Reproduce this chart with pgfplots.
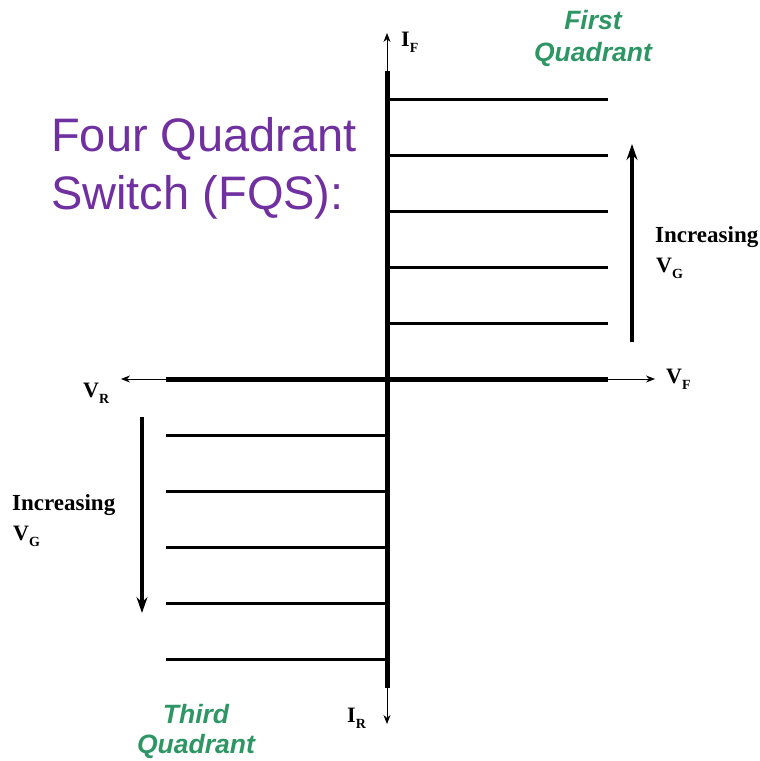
\documentclass[border=0pt]{standalone}
\usepackage{pgfplots}
\pgfplotsset{compat=1.18}
\usetikzlibrary{arrows.meta}
\usepackage{fontspec}
\setmainfont{Liberation Serif}
\newfontfamily\arial{Liberation Sans}
\newfontfamily\tnr{Liberation Serif}
\definecolor{fqspurple}{RGB}{112,48,160}
\definecolor{quadgreen}{RGB}{46,150,100}
\newcommand\lab[2]{{\tnr\bfseries\fontsize{22}{22}\selectfont #1\raisebox{-0.3em}{\fontsize{14}{14}\selectfont #2}}}
\begin{document}
\begin{tikzpicture}
\begin{axis}[width=760pt,height=761pt,scale only axis,
  xmin=0,xmax=760,ymin=0,ymax=761,y dir=reverse,hide axis,clip=false]
% frame corners (invisible)
\addplot[draw=none] coordinates {(0,0) (760,761)};
% thin axis arrows
\addplot[thick,-{Stealth[length=9pt,width=7pt]}] coordinates {(387,75) (387,33)};
\addplot[thick,-{Stealth[length=9pt,width=7pt]}] coordinates {(387,685) (387,724)};
\addplot[thick,-{Stealth[length=9pt,width=7pt]}] coordinates {(170,379) (121,379)};
\addplot[thick,-{Stealth[length=9pt,width=7pt]}] coordinates {(604,379) (655,379)};
% thick axes
\addplot[line width=5pt] coordinates {(387,71) (387,688)};
\addplot[line width=5pt] coordinates {(166,379) (608,379)};
% first quadrant characteristics
\addplot[line width=3pt] coordinates {(387,99) (608,99)};
\addplot[line width=3pt] coordinates {(387,155) (608,155)};
\addplot[line width=3pt] coordinates {(387,211) (608,211)};
\addplot[line width=3pt] coordinates {(387,267) (608,267)};
\addplot[line width=3pt] coordinates {(387,323) (608,323)};
% third quadrant characteristics
\addplot[line width=3pt] coordinates {(166,435) (387,435)};
\addplot[line width=3pt] coordinates {(166,491) (387,491)};
\addplot[line width=3pt] coordinates {(166,547) (387,547)};
\addplot[line width=3pt] coordinates {(166,603) (387,603)};
\addplot[line width=3pt] coordinates {(166,659) (387,659)};
% increasing VG arrows
\addplot[line width=4pt,-{Stealth[length=16pt,width=11pt]}] coordinates {(632,342) (632,144)};
\addplot[line width=4pt,-{Stealth[length=16pt,width=11pt]}] coordinates {(142,417) (142,613)};
% texts
\node[anchor=base west,text=fqspurple,font=\arial\fontsize{47}{58}\selectfont,inner sep=0pt]
  at (axis cs:51,151) {Four Quadrant};
\node[anchor=base west,text=fqspurple,font=\arial\fontsize{47}{58}\selectfont,inner sep=0pt]
  at (axis cs:51,209) {Switch (FQS):};
\node[anchor=base,text=quadgreen,font=\arial\bfseries\itshape\fontsize{26.5}{33}\selectfont,inner sep=0pt]
  at (axis cs:593,29) {First};
\node[anchor=base,text=quadgreen,font=\arial\bfseries\itshape\fontsize{26.5}{33}\selectfont,inner sep=0pt]
  at (axis cs:593,61) {Quadrant};
\node[anchor=base,text=quadgreen,font=\arial\bfseries\itshape\fontsize{26.5}{33}\selectfont,inner sep=0pt]
  at (axis cs:196,723) {Third};
\node[anchor=base,text=quadgreen,font=\arial\bfseries\itshape\fontsize{26.5}{33}\selectfont,inner sep=0pt]
  at (axis cs:196,753) {Quadrant};
\node[anchor=base west,inner sep=0pt] at (axis cs:401,46) {\lab{I}{F}};
\node[anchor=base west,inner sep=0pt] at (axis cs:347,722) {\lab{I}{R}};
\node[anchor=base west,inner sep=0pt] at (axis cs:666,383) {\lab{V}{F}};
\node[anchor=base west,inner sep=0pt] at (axis cs:83,397) {\lab{V}{R}};
\node[anchor=base west,inner sep=0pt,font=\tnr\bfseries\fontsize{23}{23}\selectfont] at (axis cs:655,242) {Increasing};
\node[anchor=base west,inner sep=0pt] at (axis cs:656,272) {\lab{V}{G}};
\node[anchor=base west,inner sep=0pt,font=\tnr\bfseries\fontsize{23}{23}\selectfont] at (axis cs:12,510) {Increasing};
\node[anchor=base west,inner sep=0pt] at (axis cs:13,540) {\lab{V}{G}};
\end{axis}
\end{tikzpicture}
\end{document}
